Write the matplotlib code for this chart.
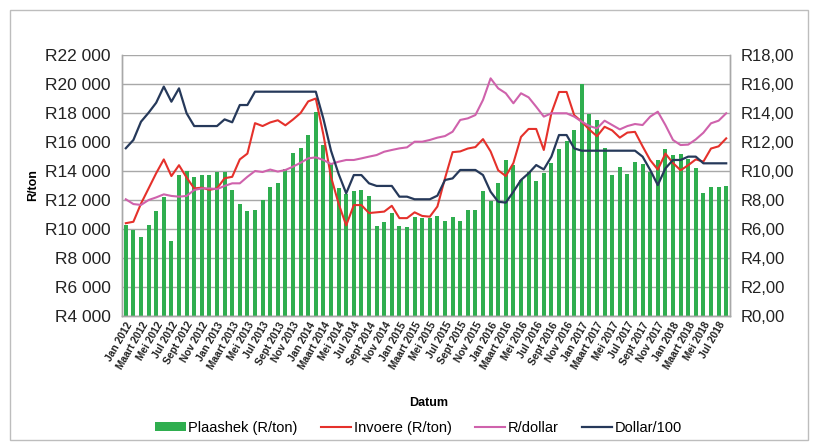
import numpy as np
import matplotlib
matplotlib.use("Agg")
import matplotlib.pyplot as plt
from matplotlib.patches import Rectangle
from matplotlib.ticker import FuncFormatter

# =============================================================================
# DATA (monthly, Jan 2012 - Aug 2018)
# =============================================================================
MONTHS = ["Jan", "Feb", "Maart", "Apr", "Mei", "Jun",
          "Jul", "Aug", "Sept", "Okt", "Nov", "Des"]
YEARS = [2012, 2013, 2014, 2015, 2016, 2017, 2018]
N_MONTHS = 80

# Plaashek (R/ton) - bars, left axis
plaashek = [10300, 9900, 9450, 10250, 11250, 12200, 9200, 13700, 14000, 13600,
            13750, 13750, 13900, 13950, 12700, 11700, 11250, 11300, 12000, 12900,
            13200, 14150, 15250, 15600, 16500, 18100, 15800, 14550, 12800, 12400,
            12600, 12700, 12250, 10200, 10500, 11100, 10200, 10150, 10800, 10750,
            10750, 10900, 10550, 10800, 10550, 11300, 11300, 12600, 11900, 13150,
            14750, 14400, 13400, 13900, 13300, 13850, 14550, 15500, 16100, 16850,
            20000, 17950, 17500, 15600, 13700, 14250, 13800, 14600, 14450, 13950,
            14750, 15500, 15100, 15150, 14800, 14200, 12500, 12900, 12900, 12950]

# Invoere (R/ton) - left axis
invoere = [10400, 10500, 11750, 12800, 13850, 14800, 13650, 14400, 13550, 12800,
           12850, 12700, 12800, 13500, 13600, 14800, 15200, 17300, 17100, 17350,
           17500, 17150, 17550, 18000, 18800, 19000, 16500, 13600, 11750, 10250,
           11650, 11650, 11100, 11150, 11200, 11600, 10750, 10750, 11150, 10900,
           10850, 11550, 13500, 15300, 15350, 15550, 15650, 16200, 15350, 14050,
           13650, 14550, 16350, 16900, 16900, 15450, 18000, 19450, 19450, 17850,
           17400, 16850, 16400, 17050, 16800, 16300, 16650, 16700, 15700, 14750,
           14100, 15200, 14550, 14050, 14400, 14800, 14650, 15550, 15700, 16250]

# R/dollar - right axis
r_dollar = [8.05, 7.72, 7.66, 8.00, 8.18, 8.39, 8.28, 8.23, 8.28, 8.69,
            8.80, 8.80, 8.75, 8.97, 9.15, 9.15, 9.60, 10.00, 9.93, 10.10,
            9.96, 10.07, 10.30, 10.57, 10.87, 10.94, 10.76, 10.48, 10.64, 10.76,
            10.76, 10.87, 10.99, 11.10, 11.33, 11.45, 11.56, 11.63, 12.02, 12.02,
            12.14, 12.30, 12.41, 12.71, 13.52, 13.63, 13.86, 14.90, 16.39, 15.70,
            15.36, 14.67, 15.36, 15.08, 14.43, 13.75, 13.98, 13.98, 13.98, 13.75,
            13.40, 13.10, 12.94, 13.47, 13.17, 12.87, 13.10, 13.24, 13.17, 13.75,
            14.09, 13.17, 12.14, 11.79, 11.82, 12.18, 12.64, 13.29, 13.47, 13.98]

# Dollar/100 - right axis
dollar_100 = [11.57, 12.14, 13.40, 14.02, 14.71, 15.82, 14.78, 15.70, 13.98, 13.10,
              13.10, 13.10, 13.10, 13.56, 13.36, 14.55, 14.55, 15.47, 15.47, 15.47,
              15.47, 15.47, 15.47, 15.47, 15.47, 15.47, 13.60, 11.40, 9.80, 8.46,
              9.72, 9.72, 9.15, 8.97, 8.97, 8.97, 8.23, 8.23, 8.05, 8.05,
              8.05, 8.30, 9.38, 9.49, 10.07, 10.07, 10.07, 9.72, 8.57, 7.88,
              7.82, 8.57, 9.38, 9.84, 10.41, 10.11, 10.99, 12.48, 12.48, 11.56,
              11.40, 11.40, 11.40, 11.40, 11.40, 11.40, 11.40, 11.40, 10.99, 10.07,
              9.03, 10.18, 10.76, 10.76, 10.99, 10.99, 10.53, 10.53, 10.53, 10.53]

COLORS = {
    'bar': '#2FAE4F',
    'invoere': '#E5312B',
    'rdollar': '#CF62AC',
    'dollar': '#26395A',
    'grid': '#A8A8A8',
    'spine': '#A8A8A8',
    'text': '#222222',
}

plt.rcParams.update({
    'font.family': ['Liberation Sans', 'DejaVu Sans'],
    'font.size': 9,
})

# month labels for every category
cat_labels = []
for y in YEARS:
    for m in MONTHS:
        cat_labels.append(f"{m} {y}")
cat_labels = cat_labels[:N_MONTHS]

x = np.arange(N_MONTHS)

fig = plt.figure(figsize=(8.19, 4.46), dpi=100)
ax = fig.add_axes([122 / 819, 1 - 316 / 446, 608 / 819, 261 / 446])
ax2 = ax.twinx()

bars = ax.bar(x, plaashek, width=0.55, color=COLORS['bar'], zorder=2)
l_inv, = ax.plot(x, invoere, color=COLORS['invoere'], lw=1.5, zorder=4)
l_rd, = ax2.plot(x, r_dollar, color=COLORS['rdollar'], lw=1.5, zorder=3)
l_d, = ax2.plot(x, dollar_100, color=COLORS['dollar'], lw=1.6, zorder=3)

ax.set_xlim(-0.5, N_MONTHS - 0.5)
ax.set_ylim(4000, 22000)
ax.set_yticks(np.arange(4000, 22001, 2000))
ax.yaxis.set_major_formatter(FuncFormatter(lambda v, p: "R" + f"{int(v):,}".replace(",", " ")))
ax2.set_ylim(0, 18)
ax2.set_yticks(np.arange(0, 18.01, 2))
ax2.yaxis.set_major_formatter(FuncFormatter(lambda v, p: "R" + f"{v:.2f}".replace(".", ",")))

ax.set_xticks(x[::2])
ax.set_xticklabels(cat_labels[::2], rotation=60, ha='right', rotation_mode='anchor',
                   fontsize=7.4, fontweight='bold', color=COLORS['text'])
ax.tick_params(axis='x', length=0, pad=3)
ax.tick_params(axis='y', labelsize=12.5, length=0, pad=8, colors=COLORS['text'])
ax2.tick_params(axis='y', labelsize=12, length=0, pad=8, colors=COLORS['text'])

ax.grid(axis='y', color=COLORS['grid'], lw=1.0, zorder=0)
ax.set_axisbelow(True)
for a in (ax, ax2):
    a.spines['top'].set_visible(False)
    for s in ('left', 'right', 'bottom'):
        a.spines[s].set_color(COLORS['spine'])
        a.spines[s].set_linewidth(1.0)

ax.set_ylabel("R/ton", fontweight='bold', fontsize=9)
ax.yaxis.set_label_coords(-0.137, 0.5)
ax.set_xlabel("Datum", fontweight='bold', fontsize=9)
ax.xaxis.set_label_coords(0.505, -0.31)

fig.legend([bars, l_inv, l_rd, l_d],
           ["Plaashek (R/ton)", "Invoere (R/ton)", "R/dollar", "Dollar/100"],
           loc='center', bbox_to_anchor=(0.511, 1 - 428 / 446),
           ncol=4, frameon=False, fontsize=10.5, handlelength=2.1, handleheight=0.6,
           handletextpad=0.15, columnspacing=1.6)

# outer chart frame
fig.patches.append(Rectangle((10 / 819, 6 / 446), 798 / 819, 430 / 446,
                             transform=fig.transFigure, fill=False,
                             edgecolor='#BDBDBD', lw=1.0))

fig.savefig("out.png", dpi=100)
